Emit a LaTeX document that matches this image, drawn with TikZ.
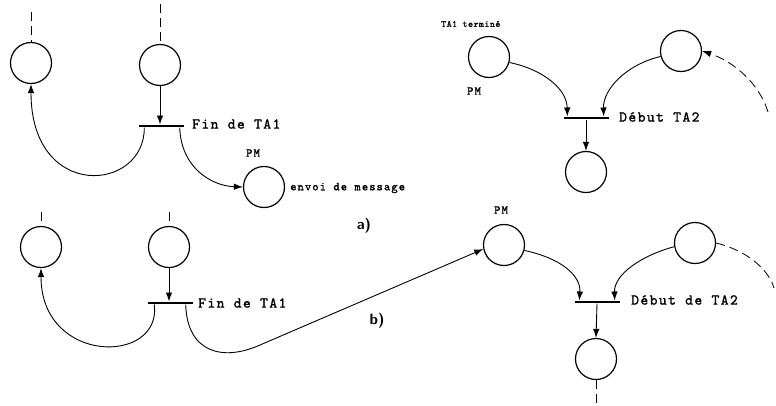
\documentclass[tikz,border=0pt]{standalone}
\usepackage{fontspec}
\usetikzlibrary{arrows.meta}
% typewriter labels: Latin Modern Mono, slightly heavier and tracked out
\newfontfamily\typew{lmmono10-regular.otf}[FakeBold=1.3]
\newcommand{\tw}[2]{\typew\fontsize{#1}{#1}\selectfont\addfontfeature{LetterSpace=#2}}
\begin{document}
\begin{tikzpicture}[x=1pt,y=-1pt,
  place/.style={draw,circle,line width=1.2pt,minimum size=41pt,inner sep=0pt},
  bar/.style={fill=black,minimum width=45pt,minimum height=2.6pt,inner sep=0pt},
  arc/.style={line width=0.9pt},
  arr/.style={arc,-{Latex[length=9pt,width=6.5pt]}},
  dsh/.style={line width=0.8pt,dash pattern=on 9pt off 5pt},
  lbl/.style={inner sep=0pt,font=\tw{15}{9}},
  slbl/.style={inner sep=0pt,font=\tw{12}{9}},
  tlbl/.style={inner sep=0pt,font=\tw{9.5}{5}},
  pm/.style={inner sep=0pt,font=\tw{12}{10}},
  part/.style={inner sep=0pt,font=\bfseries\sffamily\fontsize{15}{15}\selectfont}]
\useasboundingbox (0,0) rectangle (776,405);

% ---------- a) end of TA1 ----------
\node[place] (a1) at (31,63) {};
\node[place] (a2) at (160,65) {};
\node[bar] (ta) at (161,126) {};
\node[place] (apm) at (264,187) {};
\coordinate (a1in) at (31,12);
\coordinate (a2in) at (160,4);
\draw[dsh] (a1in) -- (a1.north);
\draw[dsh] (a2in) -- (a2.north);
\draw[arr] (a2.south) -- (a2.south |- ta.north);
\draw[arr] ([xshift=6pt]ta.south west) .. controls (145,192) and (31,202) .. (a1.south);
\draw[arr] ([xshift=-4pt]ta.south east) .. controls (181,168) and (212,186) .. (apm.west);
\node[lbl,anchor=west] (lfa) at (192,124) {Fin de TA1};
\node[pm] (lpma) at (253,153) {PM};
\node[slbl,anchor=west] (lenv) at (290,188) {envoi de message};
\node[part] (la) at (364,226) {a)};

% ---------- a) start of TA2 ----------
\node[place] (apm2) at (489,57) {};
\node[place] (ar) at (681,51) {};
\node[bar] (tb) at (586,118) {};
\node[place] (aout) at (586,172) {};
\coordinate (arin) at (768,112);
\draw[arr] (apm2.-15) .. controls (545,70) and (567,90) .. ([xshift=4pt]tb.north west);
\draw[arr] (ar.195) .. controls (625,65) and (603,90) .. ([xshift=-5pt]tb.north east);
\draw[arr] (tb.south) -- (aout.north);
\draw[dsh,-{Latex[length=9pt,width=6.5pt]}] (arin) .. controls (760,85) and (735,62) .. (ar.east);
\node[tlbl,anchor=west] (lterm) at (441,24) {TA1 terminé};
\node[pm] (lpmb) at (474,91) {PM};
\node[lbl,anchor=west] (ldeb) at (619,117) {Début TA2};

% ---------- b) ----------
\node[place] (b1) at (41,247) {};
\node[place] (b2) at (169,247) {};
\node[bar] (tc) at (170,303) {};
\node[place] (bpm) at (504,245) {};
\node[place] (br) at (695,243) {};
\node[bar] (td) at (597,302) {};
\node[place] (bout) at (596,359) {};
\coordinate (b1in) at (41,212);
\coordinate (b2in) at (169,212);
\coordinate (bout2) at (596,405);
\coordinate (brout) at (774,288);
\draw[dsh] (b1in) -- (b1.north);
\draw[dsh] (b2in) -- (b2.north);
\draw[arr] (b2.south) -- (b2.south |- tc.north);
\draw[arr] ([xshift=7pt]tc.south west) .. controls (162,365) and (41,365) .. (b1.south);
\draw[arr] ([xshift=-7pt]tc.south east) .. controls (187,352) and (222,362) .. (260,345) -- (bpm.191);
\draw[arr] (bpm.-15) .. controls (560,258) and (581,275) .. ([xshift=5pt]td.north west);
\draw[arr] (br.190) .. controls (640,256) and (614,275) .. ([xshift=-5pt]td.north east);
\draw[arr] (td.south) -- (bout.north);
\draw[dsh] (bout.south) -- (bout2);
\draw[dsh] (br.east) .. controls (745,250) and (768,268) .. (brout);
\node[lbl,anchor=west] (lfb) at (198,303) {Fin de TA1};
\node[pm] (lpmc) at (501,210) {PM};
\node[lbl,anchor=west] (ldeb2) at (631,300) {Début de TA2};
\node[part] (lb) at (377,321) {b)};
\end{tikzpicture}
\end{document}
